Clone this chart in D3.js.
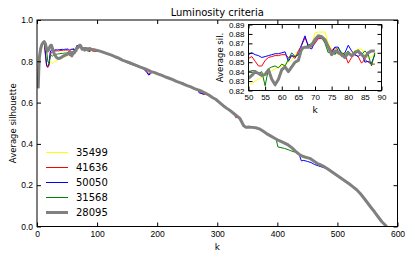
<!DOCTYPE html>
<html>
<head>
<meta charset="utf-8">
<script src="https://cdn.jsdelivr.net/npm/d3@7"></script>
<style>
body { margin: 0; background: #fff; }
svg { font-family: "DejaVu Sans", sans-serif; display: block; }
</style>
</head>
<body>
<script>
var w = 415;
var h = 260;

// legend labels and colours
var names = ["35499", "41636", "50050", "31568", "28095"];
var colors = ["#ffff00", "#ff0000", "#0000ff", "#008000", "#808080"];
var widths = [1, 1, 1, 1, 3];

var xTicks = [0, 100, 200, 300, 400, 500, 600];
var yTicks = [0.0, 0.2, 0.4, 0.6, 0.8, 1.0];
var inXTicks = [50, 55, 60, 65, 70, 75, 80, 85, 90];
var inYTicks = [0.82, 0.83, 0.84, 0.85, 0.86, 0.87, 0.88, 0.89];

// k = 2..48 (start of the curves)
var kEarly = [2, 3, 4, 6, 8, 10, 12, 14, 16, 18, 20, 22, 24, 26, 28, 30, 32, 34, 36, 38, 40, 42, 44, 46, 48];
var earlyYellow = [.67, .76, .82, .86, .88, .89, .895, .83, .79, .775, .78, .80, .795, .79, .795, .80, .803, .806, .808, .81, .813, .815, .818, .821, .824];
var earlyRed    = [.67, .76, .82, .86, .88, .89, .895, .83, .775, .77, .78, .83, .845, .845, .848, .85, .85, .851, .85, .852, .853, .852, .854, .853, .855];
var earlyBlue   = [.67, .76, .82, .86, .88, .89, .895, .84, .78, .775, .79, .845, .855, .852, .853, .855, .856, .855, .857, .856, .857, .858, .857, .858, .859];
var earlyGreen  = [.67, .76, .82, .86, .88, .89, .895, .86, .85, .80, .79, .82, .83, .825, .83, .832, .834, .835, .836, .837, .838, .838, .839, .84, .84];
var earlyGray   = [.67, .76, .82, .86, .88, .89, .895, .885, .86, .85, .86, .875, .878, .86, .84, .83, .82, .815, .813, .815, .818, .822, .826, .828, .831];

// k = 50..88 (zoomed region)
var kMid = d3.range(50, 89);
var midYellow = [.827, .827, .830, .832, .834, .836, .838, .841, .843, .845, .846, .848, .850, .852, .858, .862, .864, .865, .866, .868, .881, .882, .882, .882, .870, .864, .860, .858, .860, .860, .858, .860, .862, .864, .864, .858, .854, .855, .860];
var midRed    = [.854, .856, .851, .846, .846, .852, .855, .856, .857, .857, .858, .858, .855, .857, .854, .862, .868, .876, .868, .866, .870, .875, .875, .874, .868, .862, .866, .862, .856, .858, .849, .855, .858, .856, .849, .853, .850, .848, .848];
var midBlue   = [.858, .860, .858, .857, .855, .856, .857, .858, .859, .859, .860, .861, .851, .857, .856, .858, .869, .878, .866, .864, .872, .876, .876, .872, .866, .860, .866, .866, .858, .860, .868, .862, .858, .856, .860, .850, .851, .849, .858];
var midGreen  = [.840, .841, .841, .838, .840, .825, .843, .845, .846, .844, .848, .846, .853, .860, .856, .858, .862, .866, .868, .870, .875, .878, .876, .870, .860, .862, .858, .865, .860, .858, .862, .856, .862, .860, .858, .862, .858, .846, .860];
var midGray   = [.833, .836, .840, .838, .836, .837, .842, .832, .826, .832, .842, .845, .840, .845, .850, .852, .865, .866, .866, .868, .874, .878, .877, .874, .866, .858, .862, .860, .858, .855, .860, .857, .860, .862, .858, .855, .860, .862, .862];

// k >= 90, where all curves nearly coincide
var kTail = [90, 95, 100, 106, 112, 118, 124, 130, 136, 142, 148, 154, 160, 166, 172, 178, 184, 190, 196, 202, 208, 214, 220, 226, 232, 238, 244, 250, 256, 262, 268, 274, 280, 286, 292, 298, 304, 310, 316, 322, 328, 334, 338, 341, 344, 348, 352, 358, 364, 370, 376, 382, 388, 394, 400, 406, 412, 418, 424, 430, 436, 442, 448, 454, 460, 466, 472, 478, 484, 490, 496, 502, 508, 514, 520, 526, 532, 538, 544, 550, 556, 562, 568, 574, 582];
var tailVals = [.858, .856, .853, .848, .842, .836, .830, .822, .815, .806, .800, .793, .786, .779, .772, .766, .758, .750, .745, .738, .732, .724, .718, .711, .703, .697, .690, .682, .676, .668, .662, .655, .646, .637, .625, .615, .600, .585, .572, .560, .546, .532, .522, .505, .488, .480, .482, .480, .478, .473, .462, .450, .440, .430, .420, .412, .404, .395, .382, .365, .350, .340, .335, .330, .318, .306, .298, .290, .278, .266, .254, .242, .230, .218, .206, .192, .178, .160, .138, .115, .092, .070, .046, .023, 0];

// places where a coloured curve leaves the common one: [k, value]
var devYellow = [[[440, .342], [444, .332], [448, .328], [452, .328], [456, .322], [460, .318]]];
var devRed = [
  [[90, .852], [95, .848], [100, .848]],
  [[178, .762], [184, .748], [186, .735], [188, .745], [190, .750]],
  [[268, .660], [272, .648], [276, .640], [280, .640], [286, .637]],
  [[328, .546], [331, .526], [334, .532]]
];
var devBlue = [
  [[142, .804], [148, .796], [154, .789], [160, .782], [166, .776], [172, .770]],
  [[178, .762], [183, .745], [186, .733], [189, .740], [192, .748]],
  [[268, .660], [270, .647], [274, .644], [280, .642], [286, .637]],
  [[436, .352], [440, .318], [444, .320], [450, .315], [456, .310], [462, .300], [468, .294], [474, .288], [480, .282], [484, .278]]
];
var devGreen = [[[398, .424], [401, .385], [406, .382], [412, .378], [418, .372], [424, .365], [430, .360], [436, .350]]];
var devGray = [];

function build(early, mid, devs) {
  var pts = [];
  kEarly.forEach(function (k, i) { pts.push([k, early[i]]); });
  kMid.forEach(function (k, i) { pts.push([k, mid[i]]); });
  var tail = kTail.map(function (k, i) { return [k, tailVals[i]]; });
  devs.forEach(function (seg) {
    var a = seg[0][0], b = seg[seg.length - 1][0];
    tail = tail.filter(function (p) { return p[0] < a || p[0] > b; }).concat(seg);
  });
  tail.sort(function (p, q) { return p[0] - q[0]; });
  return { all: pts.concat(tail), mid: kMid.map(function (k, i) { return [k, mid[i]]; }) };
}

var series = [
  build(earlyYellow, midYellow, devYellow),
  build(earlyRed, midRed, devRed),
  build(earlyBlue, midBlue, devBlue),
  build(earlyGreen, midGreen, devGreen),
  build(earlyGray, midGray, devGray)
];

var svg = d3.select("body").append("svg")
  .attr("width", w)
  .attr("height", h);

// main axes
var L = 37, T = 20, R = 397.5, B = 226.5;
var xScale = d3.scaleLinear().domain([0, 600]).range([L, R]);
var yScale = d3.scaleLinear().domain([0, 1]).range([B, T]);

function frame(g, x, y, xt, yt, xf, yf, fs) {
  g.append("g").attr("transform", "translate(0," + y.range()[0] + ")")
    .call(d3.axisBottom(x).tickValues(xt).tickFormat(xf).tickSize(-4).tickPadding(4));
  g.append("g").attr("transform", "translate(0," + y.range()[1] + ")")
    .call(d3.axisTop(x).tickValues(xt).tickFormat("").tickSize(-4));
  g.append("g").attr("transform", "translate(" + x.range()[0] + ",0)")
    .call(d3.axisLeft(y).tickValues(yt).tickFormat(yf).tickSize(-4).tickPadding(4));
  g.append("g").attr("transform", "translate(" + x.range()[1] + ",0)")
    .call(d3.axisRight(y).tickValues(yt).tickFormat("").tickSize(-4));
  g.selectAll(".domain").remove();
  g.selectAll(".tick line").attr("stroke", "#000");
  g.selectAll(".tick text").attr("fill", "#000").style("font-size", fs);
  g.append("rect")
    .attr("x", x.range()[0]).attr("y", y.range()[1])
    .attr("width", x.range()[1] - x.range()[0])
    .attr("height", y.range()[0] - y.range()[1])
    .attr("fill", "none").attr("stroke", "#000").attr("stroke-width", 1);
}

svg.append("defs").append("clipPath").attr("id", "clipMain")
  .append("rect").attr("x", L).attr("y", T).attr("width", R - L).attr("height", B - T);

var line = d3.line()
  .x(function (d) { return xScale(d[0]); })
  .y(function (d) { return yScale(d[1]); });

svg.append("g").attr("clip-path", "url(#clipMain)")
  .selectAll("path")
  .data(series)
  .enter()
  .append("path")
  .attr("d", function (d) { return line(d.all); })
  .attr("fill", "none")
  .attr("stroke", function (d, i) { return colors[i]; })
  .attr("stroke-width", function (d, i) { return widths[i]; })
  .attr("stroke-linejoin", "round");

frame(svg.append("g"), xScale, yScale, xTicks, yTicks, d3.format("d"), d3.format(".1f"), "8.5px");

svg.append("text")
  .attr("x", (L + R) / 2).attr("y", 16)
  .attr("text-anchor", "middle")
  .style("font-size", "10px")
  .text("Luminosity criteria");

svg.append("text")
  .attr("x", (L + R) / 2).attr("y", 250)
  .attr("text-anchor", "middle")
  .style("font-size", "9px")
  .text("k");

svg.append("text")
  .attr("transform", "translate(16," + (T + B) / 2 + ") rotate(-90)")
  .attr("text-anchor", "middle")
  .style("font-size", "8.5px")
  .text("Average silhouette");

// legend
var legend = svg.append("g")
  .selectAll("g")
  .data(names)
  .enter()
  .append("g")
  .attr("transform", function (d, i) { return "translate(46," + (152.5 + i * 15) + ")"; });
legend.append("line")
  .attr("x1", 0).attr("x2", 22)
  .attr("stroke", function (d) { return colors[names.indexOf(d)]; })
  .attr("stroke-width", function (d) { return widths[names.indexOf(d)]; });
legend.append("text")
  .attr("x", 30).attr("dy", "0.35em")
  .style("font-size", "10px")
  .text(function (d) { return d; });

// inset
var iL = 248.5, iT = 24.5, iR = 381.5, iB = 90.5;
var ixScale = d3.scaleLinear().domain([50, 90]).range([iL, iR]);
var iyScale = d3.scaleLinear().domain([0.82, 0.89]).range([iB, iT]);

svg.append("rect")
  .attr("x", iL).attr("y", iT).attr("width", iR - iL).attr("height", iB - iT)
  .attr("fill", "#fff");

svg.append("defs").append("clipPath").attr("id", "clipIn")
  .append("rect").attr("x", iL).attr("y", iT).attr("width", iR - iL).attr("height", iB - iT);

var iline = d3.line()
  .x(function (d) { return ixScale(d[0]); })
  .y(function (d) { return iyScale(d[1]); });

svg.append("g").attr("clip-path", "url(#clipIn)")
  .selectAll("path")
  .data(series)
  .enter()
  .append("path")
  .attr("d", function (d) { return iline(d.mid); })
  .attr("fill", "none")
  .attr("stroke", function (d, i) { return colors[i]; })
  .attr("stroke-width", function (d, i) { return widths[i]; })
  .attr("stroke-linejoin", "round");

frame(svg.append("g"), ixScale, iyScale, inXTicks, inYTicks, d3.format("d"), d3.format(".2f"), "8px");

svg.append("text")
  .attr("x", (iL + iR) / 2).attr("y", 113)
  .attr("text-anchor", "middle")
  .style("font-size", "9px")
  .text("k");

svg.append("text")
  .attr("transform", "translate(223," + (iT + iB) / 2 + ") rotate(-90)")
  .attr("text-anchor", "middle")
  .style("font-size", "8.5px")
  .text("Average sil.");
</script>
</body>
</html>
